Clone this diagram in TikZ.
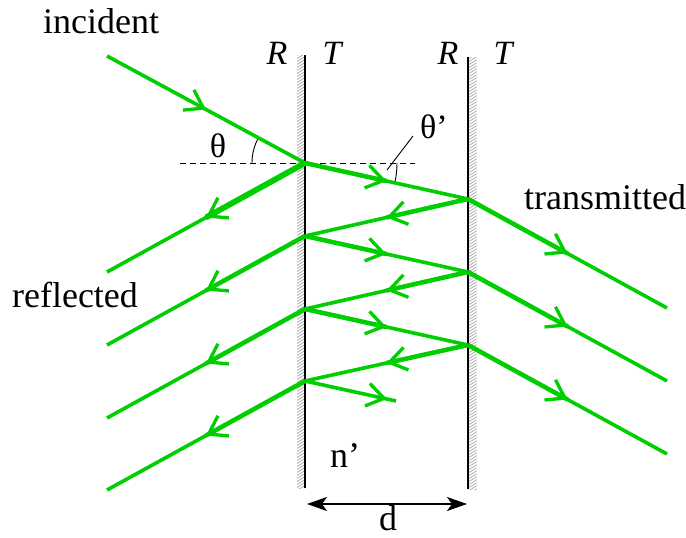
\documentclass[tikz,border=0pt]{standalone}
\usepackage{fontspec}
\setmainfont{Liberation Serif}
\newfontfamily\timesfont{Liberation Serif}
\usetikzlibrary{arrows.meta,decorations.markings,calc}
\definecolor{raygreen}{RGB}{0,206,0}
\begin{document}
\begin{tikzpicture}[x=1pt,y=-1pt,
  ray/.style={raygreen, line width=3.6pt},
  rayhalf/.style={raygreen, line width=4.5pt},
  midarrow/.style={postaction={decorate}, decoration={markings,
     mark=at position #1 with {\arrow[raygreen, line width=3.3pt]{Straight Barb[length=17pt,width=23pt]}}}},
  midarrow/.default=0.5,
  plate/.style={black, line width=2.2pt},
  hatch/.style={gray!80, line width=0.6pt},
  word/.style={font=\timesfont\fontsize{36}{40}\selectfont, inner sep=0pt, anchor=base},
  sym/.style={font=\timesfont\fontsize{34}{38}\selectfont, inner sep=0pt, anchor=base},
  ital/.style={font=\timesfont\fontsize{34}{38}\selectfont\itshape, inner sep=0pt, anchor=base},
  thin/.style={black, line width=0.9pt}]
\useasboundingbox (0,0) rectangle (686,538);

% plates
\coordinate (LT) at (305,55);  \coordinate (LB) at (305,488);
\coordinate (RT) at (468,57);  \coordinate (RB) at (468,489);
\begin{scope}
  \clip (297,55) rectangle (304.5,488);
  \foreach \y in {44,47,...,494} \draw[hatch] (296,\y+6) -- (306,\y);
\end{scope}
\begin{scope}
  \clip (469,57) rectangle (476.5,489);
  \foreach \y in {44,47,...,494} \draw[hatch] (468,\y+6) -- (478,\y);
\end{scope}
\draw[plate] (LT) -- (LB);
\draw[plate] (RT) -- (RB);

% dashed normal and angles
\coordinate (NL) at (180,163); \coordinate (NR) at (415,163);
\draw[thin, dash pattern=on 6pt off 4pt, line width=1pt] (NL) -- (NR);

% ray points
\coordinate (I) at (107,56);
\coordinate (P0) at (305,163); \coordinate (P1) at (305,236);
\coordinate (P2) at (305,309); \coordinate (P3) at (305,381);
\coordinate (Q0) at (468,199); \coordinate (Q1) at (468,272);
\coordinate (Q2) at (468,345);
\coordinate (E0) at (107,272); \coordinate (E1) at (107,345);
\coordinate (E2) at (107,418); \coordinate (E3) at (107,490);
\coordinate (T0) at (667,308); \coordinate (T1) at (667,381);
\coordinate (T2) at (667,454);
\coordinate (Z) at (396,401);

\draw[thin] ([shift={(180:53)}]P0) arc[start angle=180, end angle=208.6, radius=53];
\draw[thin] ([shift={(0:92)}]P0) arc[start angle=0, end angle=12.45, radius=92];
\coordinate (LA) at (387,170); \coordinate (LB2) at (413,136);
\draw[thin] (LA) -- (LB2);

% thicker first halves
\draw[raygreen, line width=5.8pt] (P0) -- ($(P0)!0.5!(E0)$);
\foreach \a/\b in {P1/E1,P2/E2,P3/E3,P0/Q0,Q0/P1,P1/Q1,Q1/P2,P2/Q2,Q2/P3,Q0/T0,Q1/T1,Q2/T2}
  \draw[rayhalf] (\a) -- ($(\a)!0.5!(\b)$);

% rays
\draw[ray, midarrow] (I) -- (P0);
\foreach \a/\b in {P0/E0,P1/E1,P2/E2,P3/E3,P0/Q0,Q0/P1,P1/Q1,Q1/P2,P2/Q2,Q2/P3,Q0/T0,Q1/T1,Q2/T2}
  \draw[ray, midarrow] (\a) -- (\b);
\draw[ray, midarrow=0.9] (P3) -- (Z);

% dimension
\coordinate (D1) at (307,504); \coordinate (D2) at (467,504);
\draw[line width=1.4pt, {Stealth[length=20pt,width=14pt,inset=5pt]}-{Stealth[length=20pt,width=14pt,inset=5pt]}] (D1) -- (D2);

% labels
\node[word] (incident) at (101,33) {incident};
\node[word] (reflected) at (75,307) {reflected};
\node[word] (transmitted) at (605,209) {transmitted};
\node[word] (nprime) at (345,467) {n’};
\node[word] (dlab) at (388,530) {d};
\node[sym] (theta) at (218,157) {θ};
\node[sym] (thetap) at (434,138) {θ’};
\node[ital] (R1) at (277,64) {R};
\node[ital] (T1l) at (332,64) {T};
\node[ital] (R2) at (448,64) {R};
\node[ital] (T2l) at (503,64) {T};
\end{tikzpicture}
\end{document}
